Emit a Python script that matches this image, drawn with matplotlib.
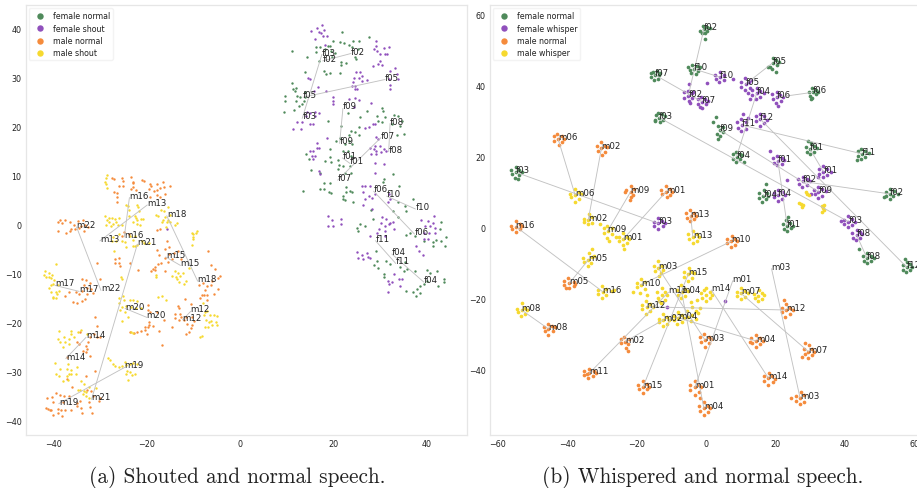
import matplotlib
matplotlib.use('Agg')
import matplotlib.pyplot as plt

COL_GREEN = '#4f8a5b'
COL_PURPLE = '#9050bc'
COL_ORANGE = '#f58b3c'
COL_YELLOW = '#f6d92f'

# panel a, points
a_female_normal = [(11.2,35.4),(21.9,39.1),(27.6,38.2),(21.4,37.2),(22.3,37),(23.2,36.5),(24.1,37.4),(25.5,37.4),(23.9,36.1),(25.3,35.7),
    (19.9,37.3),(18.8,36.4),(18.2,35.7),(19.3,36.3),(16.3,36.1),(17.1,36.1),(16.2,35.2),(19.4,35.4),(20.4,35),(14.3,34.1),(16.9,33.3),(19.6,34),
    (24.6,34),(24.9,33.7),(21.6,33.1),(22.7,32.9),(21.6,32.5),(13.8,31),(17.9,31.3),(18.4,30.6),(19.3,30.8),(21.4,30.8),
    (11.1,28.8),(12,27.8),(11.3,27.6),(11.8,27.2),(9.6,26.2),(9.6,25.2),(12.1,26.2),(12.9,25.9),(13.8,25.9),(13.9,26.9),(11.9,25.2),(13.2,24.5),
    (12.7,24),(11.6,23.3),(9.3,22.9),(13.7,25.2),(23,22.7),(18.9,21.1),(25.7,21.9),(27.1,23.1),(30.4,23.6),(30.5,23.1),(29.4,22),(31,21.8),
    (32.9,22.3),(33.7,22.1),(29.6,21.1),(32.6,20.4),(34.3,20.1),(34.6,21.1),(25.5,19.9),(30.4,20.8),(35,18.4),(33.6,18.2),(21.6,20.1),(23.8,19),
    (24.6,18.8),(25.4,18.2),(23.2,18.2),(21.3,17.5),(23.2,17),(22.5,16.3),(23.9,16.3),(19.3,15.3),(20.6,17),(14,14.3),(14.8,13.3),(22.1,15),(23,15),
    (23.7,13.9),(19.3,13.6),(18.2,12.9),(19.4,12.7),(20.9,13.1),(21.1,12),(15.1,11.1),(17,10.5),(20.9,11.2),(22,11.9),(23.6,11.9),(22.5,10.5),
    (23.7,10.5),(32.7,10.2),(30.7,9.2),(30.6,8.6),(17.9,8.3),(19.3,8.4),(17,7.1),(17.9,7.1),(13.4,6.8),(19.1,6.6),(19.4,6.3),(22.7,7.5),(23.6,6.8),
    (24,6.6),(22.7,6.6),(22.1,5.8),(22,5.1),(22.5,5),(24.1,4.6),(34,7.8),(37,5.2),(33.9,4.6),(35.3,3.7),(35.5,2.7),(32.7,2.7),(28.1,2.9),(28.4,1),
    (33.9,1.4),(25.7,0.1),(25.1,-0.7),(25.3,-1.4),(26.7,-0.3),(43.1,0.5),(42.7,-1),(37.5,-2.4),(35.5,-2.2),(36.4,-1.9),(39.3,-3.4),(41.2,-3.7),
    (41.2,-4.4),(42.9,-3.4),(44.1,-2.7),(43.9,-4.4),(41.9,-3.3),(29.1,-5.4),(29.3,-7.5),(28.7,-8.3),(29.5,-9),(31.3,-7.6),(32,-8.2),(30.9,-10.2),
    (30.9,-10.7),(35.3,-7.7),(35.7,-9.2),(34.3,-8.8),(35.1,-9.5),(37.5,-9.5),(40,-9.4),(42.1,-9.5),(40.7,-9.9),(43.6,-11.2),(43.6,-11.7),(42.3,-12.7),
    (39.3,-12.2),(38.4,-12.6),(37.9,-13.3),(38.4,-14.1),(37,-13.9),(37.6,-14.6),(35.5,-13.6),(40,-11.6)]
a_female_shout = [(16.4,40.1),(17.6,40.6),(15.2,39.3),(17.4,39),(18,39.5),(16.8,39.1),(18.6,38.4),(17.8,38.4),(16.1,37.8),(18.2,36.5),
    (29.1,37.3),(29.1,36.4),(28.6,35.7),(29.4,35.4),(30.7,36),(31.9,36.2),(31,34.7),(30,34.7),(31.4,34.7),(30,33.3),(29.6,32.7),(28.4,32.3),(30.3,32.4),
    (32.1,31.2),(33.2,31.8),(33.6,30.6),(31.8,29.6),(33.9,29.6),(32.1,28.4),(32,27.6),(24.9,31),(25.7,31),(26.1,30.3),(24.3,29.9),(25.4,29.8),(27.1,29.4),
    (24.1,29),(26.1,29.3),(23.9,28.1),(24.6,27.6),(25.1,27.6),(24.5,28.1),(14.5,29.8),(15,29.6),(16.6,27.9),(15.9,27.2),(18.4,27.2),(19.8,26),(19.8,25.2),
    (19.8,24.5),(23.4,25.6),(24.6,25.8),(25.4,25.4),(24.3,23.8),(28,24.8),(14.3,22.9),(15,22.6),(16,22.9),(16.8,22.6),(14,22.1),(13.2,20.9),(12.1,20.9),
    (15,20.5),(15.6,20.4),(11.4,19.5),(13,19.5),(16,22),(26.8,19.7),(27.5,19.9),(28.4,20.4),(28.8,20.4),(18.6,17.5),(29,17.7),(29.6,17.3),(28.9,16),(30,16),
    (27.9,15.6),(28.6,15.3),(29.1,15),(30.1,14.8),(31.3,15),(28,14.3),(29,14.3),(30.9,15.3),(16.4,16.5),(16.4,15.6),(16.9,15.6),(14.9,15),(15.7,15),(15.3,14),
    (16,14),(15.5,13.3),(28.9,12.4),(30.8,12.2),(28.9,10.5),(16.8,10.9),(17.1,10.2),(26.1,7.7),(26.8,7.8),(27.7,7.8),(26.4,6.6),(27.5,5.8),(28.2,5.4),(28.9,6.1),
    (26.8,5.1),(26.4,3.9),(28.2,3.1),(31.8,6.1),(32.1,5.1),(31.6,4.6),(18.9,1.7),(19.6,0.9),(18.9,-0.3),(19.9,-0.3),(21.6,1),(21.6,0),(30.4,1.4),(31.3,1),(32.1,0.3),
    (32.7,0.5),(30.1,0.3),(31,-0.3),(29.8,-1),(31,-1.4),(32.9,-1),(27.7,-2.4),(29.4,-1.7),(31,-2.4),(31.8,0),(38.7,0.9),(40.3,0.7),(41.4,1.6),(41.3,0.3),(39.6,-0.3),
    (40.7,-0.3),(41.8,-0.7),(39.3,-1.7),(40.5,-1.8),(41.8,-1.8),(40.3,-3.1),(39.3,-3.1),(37.7,-4.4),(38.2,-5.4),(39.1,-6.3),(25,-5.6),(25.3,-6.8),(26,-6.3),(27.1,-5.9),
    (27.7,-6.8),(26.2,-7.1),(27.3,-6.6),(31.6,-11.6),(32.5,-11.8),(31.8,-12.2),(34,-11.2),(34.7,-11.1),(31.6,-13.9),(34.3,-12.6),(32.9,-10.2),(-15.7,-1)]
a_male_normal = [(-27.4,9.4),(-27,9.3),(-25.3,9.5),(-25.1,8.8),(-25,7.7),(-23.4,9.7),(-23,8.7),(-22.9,8.4),(-21.1,9),(-20.5,8.9),(-25.9,7.7),(-27.1,6.6),(-26.3,6.3),
    (-26.4,5.5),(-26.4,4.6),(-23,7.5),(-23.4,7.1),(-22.3,7),(-19.2,8.2),(-19,7.7),(-17.8,8.1),(-16.5,8.5),(-19.5,7.1),(-18.4,6.8),(-17.8,7),(-17.1,7.3),(-16.4,7.5),
    (-15.1,7.8),(-17.8,6),(-17.1,5.6),(-16.1,6.1),(-19.2,5.6),(-38.9,0.4),(-38.6,0.9),(-38.2,0.2),(-37.4,0.9),(-36.4,0.4),(-35.6,-0.2),(-34.8,0.7),(-33.7,0.8),(-33.2,-0.2),
    (-32.5,-0.5),(-34.5,-0.8),(-35.3,-1),(-36.5,-1.3),(-37.2,-1.7),(-38.9,-1.3),(-33.4,-1.3),(-34,-0.3),(-36.1,-0.9),(-37.4,-14.7),(-36.6,-13.9),(-35.7,-15.9),(-35,-16),
    (-34.4,-14.3),(-33.9,-15.6),(-33.1,-15.3),(-33.9,-11.2),(-33,-11.4),(-32.1,-12),(-33.4,-12.4),(-32.7,-13),(-32,-13.3),(-31.4,-14),(-32.8,-14.2),(-33.9,-13.6),(-35.2,-13.8),
    (-29.9,-11.1),(-30.7,-8),(-26,-7),(-26.7,-7.2),(-26,-8),(-26.8,-8),(-25.8,-8.5),(-24.8,-1.5),(-23.8,-2),(-25.3,-2.5),(-17.8,-1.1),(-17.2,-1),(-23.6,-8),
    (-17.7,-5.2),(-15.7,-3.5),(-15.3,-4.6),(-16,-5),(-15.2,-6),(-17.3,-6.3),(-14.2,-5.9),(-13.4,-5.4),(-12.6,-7.2),(-14.6,-7.1),(-16.1,-7),(-17,-7.9),(-18.3,-9.4),(-18.7,-9.1),
    (-18.2,-8.8),(-16,-9.5),(-17.5,-8.2),(-19,-9.6),(-21.9,-9.3),(-15.4,-7.8),(-6.9,-5.5),(-6.2,-8.4),(-5.4,-9.2),(-4.4,-10.6),(-4.7,-10.9),(-8,-11.9),(-7.1,-12.7),(-6.2,-12.5),
    (-6,-11.5),(-4.8,-13.3),(-5.6,-14.2),(-7.6,-13.4),(-8.2,-14.5),(-7.8,-14.4),(-7,-14.5),(-8.6,-15),(-7,-15.4),(-8.9,-12.5),(-11.7,-15.3),(-13.4,-16.6),(-13,-17),(-10.5,-16.2),
    (-14,-18.3),(-12.8,-18.3),(-12.6,-19),(-14,-19.2),(-13,-19.5),(-11.6,-19),(-10.4,-18.9),(-12,-19.6),(-11.4,-20.3),(-10.4,-20.5),(-10.5,-21.2),(-10.9,-22),(-11.5,-22.3),(-9.8,-19.8),
    (-14.5,-21),(-19.7,-16.5),(-19.8,-17.5),(-19.2,-18),(-17.7,-18),(-19.6,-20),(-19.5,-20.5),(-19.7,-21),(-18.7,-20.7),(-20.3,-21),(-20.4,-21.5),(-21.3,-21.7),(-22,-22),(-20,-22.5),
    (-17.4,-21.8),(-16.4,-19.5),(-16.7,-24.6),(-23.5,-22),(-22.7,-22.2),(-31,-19),(-30.7,-20.8),(-34.2,-22),(-32.2,-23),(-31.3,-22.5),(-30.6,-23),(-30,-23),(-32.5,-24),(-33,-24.8),
    (-34.9,-24),(-34.5,-24.5),(-33.7,-25.8),(-32.8,-25.4),(-33,-26),(-32.2,-26.9),(-37,-27),(-41.3,-35.4),(-40.3,-35.3),(-39.5,-34.5),(-38.5,-34.9),(-37.8,-35),(-36.6,-35),(-38,-36.2),
    (-40,-36.2),(-41.5,-37.5),(-41.2,-37.6),(-40.7,-37.8),(-40.4,-38),(-38.9,-37.6),(-38.3,-38),(-37.5,-38),(-36.2,-38),(-39,-38.5),(-40,-39),(-38.1,-39.2),(-35,-37),(-34,-37.5),
    (-33.8,-38.6),(-34.2,-36),(-35,-36.5),(-32.4,-36.3),(-32.1,-37.2),(-31.8,-38.5),(-32,-34),(-32.8,-33.9),(-31.5,-35),(-30,-35.5),(-30.3,-36),(-33,-31),(-35.9,-33.3),(-37,-31.6),(-31,-30)]
a_male_shout = [(-28.5,10),(-28.8,9.4),(-29,8.7),(-28.7,8.2),(-28.6,7.4),(-29,1.7),(-28,1.2),(-27.4,1.3),(-26.7,1.1),(-26,1.2),(-28.5,0.9),(-28,0.4),(-27.3,0.1),(-26.5,0.5),(-28.7,-0.1),
    (-27.7,-0.3),(-26.2,-0.2),(-25.2,-0.2),(-24.4,4),(-24,3.7),(-23.8,2.8),(-22,4),(-21.8,3.4),(-21.7,2.7),(-22.6,1.6),(-23.7,1.7),(-22.3,1.2),(-22,0.8),(-21.3,1),(-20.7,1),(-22.9,0.4),
    (-22,0),(-21.5,-0.2),(-18,1.8),(-17.5,1.6),(-17,2.8),(-16.2,2.7),(-15.5,3.5),(-15,1.8),(-16,1.5),(-16.5,0.9),(-15.5,0.8),(-15,0.5),(-13.5,0.3),(-16.7,0.5),(-15.6,0.4),(-15.9,-0.5),(-14,-0.2),
    (-27.2,-2.6),(-26,-2),(-27.4,-3.4),(-26.5,-3.5),(-25.2,-3.5),(-24.7,-3.7),(-23.5,-2.5),(-23,-3.3),(-22.6,-2.5),(-21,-3.4),(-20.5,-3.8),(-22.5,-4.5),(-23,-4.5),(-24.4,-4.6),(-27,-5.5),(-22,-4.2),(-19.5,-3.9),
    (-41.7,-9.6),(-41.9,-10.3),(-40.9,-10),(-40.3,-10.3),(-41,-10.8),(-40.5,-11),(-41.5,-10.8),(-39.5,-8.2),(-39.9,-11.3),(-40,-12.2),(-40.5,-12.5),(-41,-13),(-40.5,-13.8),(-39.5,-13.8),(-38.9,-12.4),
    (-38.7,-13.7),(-39.2,-14.2),(-40,-14.8),(-40.1,-15),(-39.4,-15),(-10.4,-1.7),(-10,-2),(-10,-2.6),(-9.5,-1.8),(-9.3,-1.4),(-10,-3),(-10.3,-4.3),(-18,-10.8),(-18,-10.3),(-14.5,-10.5),(-13.4,-9.9),
    (-13.7,-10.7),(-12.8,-10.5),(-12.2,-10),(-13.6,-11.2),(-13,-11.7),(-11.6,-11.5),(-12,-12.3),(-14,-9.5),(-11,-9),(-25.6,-10.8),(-25.2,-11.2),(-26,-15),(-25,-14.7),(-24.8,-15.5),(-26,-16),(-25.3,-16.8),
    (-24.5,-16.7),(-23.6,-15.5),(-23,-15.5),(-22,-15.7),(-23.4,-16.8),(-22.2,-17),(-21.2,-17),(-25.7,-17.5),(-24.6,-18),(-24,-19),(-25.3,-19.7),(-23.3,-22),(-22.9,-22.2),(-17.6,-14.8),(-16.7,-14.7),(-15.8,-15.5),
    (-7.5,-18),(-7,-17.8),(-6.5,-18.5),(-5.5,-18.5),(-5,-18.8),(-7.2,-19.5),(-6.7,-20),(-6.2,-19.8),(-6,-20.5),(-5.2,-20),(-4.9,-20.5),(-6.8,-20.9),(-7.6,-21),(-8.2,-22.8),(-8.6,-23),(-8,-16),(-7.8,-18.6),
    (-38.7,-21.8),(-36.2,-21.8),(-36.2,-22.5),(-37.8,-23),(-39,-23.5),(-38.5,-24),(-37.5,-24),(-36.7,-23.5),(-38,-25),(-36.7,-24.5),(-35.6,-23),(-34.8,-22),(-34,-21.5),(-32.8,-22.5),
    (-28.2,-27.2),(-27.8,-27.7),(-27.2,-28.5),(-26.8,-29),(-26,-29.2),(-25.2,-29),(-24.7,-28.2),(-24.4,-28.8),(-23.5,-28.6),(-23,-28.3),(-22,-28.5),(-24.3,-30),(-23.5,-30.2),(-23.2,-30.7),(-22.4,-30.5),(-24.5,-30.5),(-24.1,-31.8),
    (-39.6,-28.3),(-38.5,-29.5),(-38.8,-31),(-39.4,-30.5),(-38,-32),(-37,-29.5),(-36.8,-28.5),(-36.3,-29.8),(-36.6,-30.5),(-37,-31),(-36.1,-30.5),(-36.8,-31.8),(-35,-29.2),(-35.2,-30.5),
    (-33.5,-32.5),(-34.2,-33.8),(-34.7,-33.8),(-33.5,-34),(-33,-34.3),(-32.3,-33.3),(-33.7,-34.7),(-33,-35),(-34,-32),(-32.4,-35.5),(-30.8,-33.5)]

# panel b, tight blobs
b_female_normal = [(-0.6,55.8),(-1.6,55.3),(0.2,56.4),(-0.9,56.6),(0.4,55.2),(-1.2,54.7),(-0.3,54.6),(1.2,56),(-0.2,53.1),
    (-3.5,44.6),(-4.7,44.2),(-2.6,45.4),(-3.9,45.8),(-2.4,44),(-4.2,43.4),(-3,43.1),(-5.1,45),(-1.8,45.1),
    (-14.7,42.9),(-15.8,42.3),(-14,44),(-15.2,43.8),(-13.6,42.8),(-14.9,41.5),(-13.9,41.9),(-15.9,43.4),(-13.2,43.4),
    (19.2,46.3),(18.4,45.2),(20.1,47.2),(19.4,47.6),(20.5,45.8),(18,45),(19,44.6),(21,46.5),(20.2,43.8),
    (30.7,38),(29.9,37),(31.7,38.8),(30.5,39.2),(31.6,37.4),(29.6,38.2),(30.6,36.4),(32.2,38.2),(30.2,36),
    (-13.5,30.9),(-14.7,30.3),(-12.7,31.8),(-13.9,32.2),(-12.5,30.3),(-14.4,31.7),(-13.2,29.6),(-14.8,29.9),(-11.9,31.2),
    (4,27.4),(3.2,26.3),(4.9,28.2),(3.6,28.6),(4.8,26.7),(1.9,29.7),(2.9,31),(3.4,24.9),(4.1,25.6),
    (8.8,19.9),(7.8,19.2),(9.7,20.6),(8.6,21.1),(9.9,19.1),(7.7,20.6),(8.6,18.3),(10.3,20.3),(11,18.4),
    (30,22),(29.1,21.3),(31,22.8),(30.2,23.6),(31.2,21.2),(28.9,22.7),(29.9,20.6),(32.1,22.2),(29.5,24.2),
    (44.9,20.7),(43.9,20),(45.9,21.4),(44.8,22),(45.8,19.9),(43.8,21.4),(44.8,19.3),(47,20.8),(43.6,19),
    (16.5,8.9),(15.4,8.3),(17.5,9.7),(16.6,10.5),(17.3,7.9),(15.2,9.6),(16.2,7.2),(18,8.9),(17.2,12.2),
    (53,9.4),(52,8.7),(54.1,10.1),(53.1,10.9),(54,8.7),(51.8,10),(52.9,7.9),(55.2,9.3),(51.3,8.5),
    (23.4,0.4),(22.4,-0.4),(24.3,1.2),(23.2,2),(24.5,-0.3),(22.3,1),(23.4,-1),(25.2,0.5),(23.7,2.9),
    (46.4,-8.7),(45.4,-9.5),(47.5,-8),(46.4,-7.2),(47.4,-9.6),(45.3,-8),(46.3,-10.1),(48.4,-8.6),(44.1,-6),
    (57.9,-11.3),(56.9,-12),(58.9,-10.4),(57.9,-9.8),(58.8,-11.9),(56.8,-10.6),(57.6,-12.7),(59.4,-11.2),(57.4,-9),
    (-54.8,15.5),(-55.9,15),(-53.8,16.2),(-54.8,17),(-53.9,14.8),(-56.1,16),(-55,14),(-53.1,15.7),(-54.2,13.6)]
b_female_whisper = [(-5.1,37.1),(-6.2,36.4),(-4.1,37.8),(-5.3,38.4),(-4,36.4),(-6.3,38),(-5,35.5),(-3.7,38.2),(-5,40.3),(-4.5,34.9),
    (-1.2,35.4),(-2.4,34.8),(-0.2,36.2),(-1.4,36.7),(0,34.6),(-2.4,36),(-1,33.6),(0.6,35.6),(-1.8,33.9),
    (4,42.3),(2.8,41.7),(5.1,42.9),(4.1,43.7),(5.2,41.5),(2.7,43),(3.9,40.8),(7.7,41.8),(0.4,40.6),
    (11.4,40.3),(10.2,39.6),(12.4,41),(11.2,42),(12.6,39.3),(10,40.9),(11.3,38.6),(13,41.6),(12,37.8),
    (14.6,37.7),(13.4,37.2),(15.7,38.5),(14.6,39.1),(15.6,36.8),(13.3,38.6),(14.4,36.1),(16.7,37.9),(12.6,36.1),
    (20.4,36.6),(19.2,36),(21.4,37.3),(20.5,38),(21.5,35.7),(19.1,37.4),(20.3,35),(22.3,36.7),(20.8,34.2),
    (15.6,30.5),(14.5,29.8),(16.7,31.2),(15.6,32),(16.7,29.4),(14.4,31.3),(15.5,28.6),(17.5,30.2),
    (10.3,28.8),(9.2,28.1),(11.4,29.6),(10.2,30.6),(11.4,27.8),(9,29.6),(10.2,27),(12,30.8),(10.6,31.8),
    (20.7,18.8),(19.6,18.2),(21.8,19.6),(20.5,20.2),(21.9,17.8),(19.4,19.5),(20.5,17.4),(18.5,21.4),(22.5,19),
    (33.8,15.7),(32.7,15),(34.9,16.4),(33.7,17.2),(34.8,14.6),(32.6,16.4),(33.7,14.1),(35.9,15.5),(32.4,14.2),
    (27.9,12.9),(26.8,12.2),(29,13.6),(27.9,14.3),(29,11.8),(26.6,13.6),(27.8,11.4),(30,13.1),(23.4,13.4),
    (32.4,10),(31.3,9.3),(33.5,10.7),(32.4,11.4),(33.5,8.8),(31,10.4),(32.3,8.3),(34.5,10.2),(30.2,9.3),
    (20.8,9.1),(19.7,8.4),(21.9,9.8),(20.8,10.5),(21.9,7.9),(19.6,9.6),(20.7,7.4),(22.8,9),
    (41,1.6),(39.9,0.9),(42.1,2.3),(41,3.2),(42.1,0.6),(39.7,2.1),(41,0),(43,1.5),(38.8,1.9),
    (43.4,-2.2),(42.3,-3),(44.5,-1.4),(43.4,-0.7),(44.5,-3),(42.2,-1.6),(43.3,-3.6),(45,-2),
    (-13.7,1.1),(-14.9,0.4),(-12.6,1.8),(-13.7,2.6),(-12.5,0.3),(-15,1.6),(-13.7,-0.6),(-11.9,1.3),(5.5,-20.8),(-11.1,-22.5)]
b_male_normal = [(-42.6,24.9),(-43.8,24.3),(-41.6,25.7),(-42.8,26.4),(-41.4,24),(-43.9,25.6),(-42.4,23.2),(-40.9,25),
    (-30.1,22.3),(-31.2,21.5),(-29.1,23),(-30.2,24),(-29,21.2),(-31.3,23),(-30,20.4),(-28.6,22.5),
    (-21.7,10),(-22.9,10.4),(-20.7,10.7),(-21.6,11.6),(-20.9,9),(-23.4,10),(-21.6,8.6),(-21.9,7.8),
    (-11.5,10),(-12.7,9.4),(-10.5,10.7),(-11.4,11.6),(-10.4,9),(-12.9,10.4),(-11.3,8.4),(-9.9,10),
    (-54.8,0.2),(-56,-0.6),(-53.7,0.9),(-54.6,1.9),(-53.7,-0.6),(-56.3,0.5),(-54.8,-1.3),(-53,0.3),
    (-4.4,3.3),(-5.6,2.7),(-3.4,4),(-4.6,4.9),(-3.4,2.4),(-5.7,3.9),(-4.5,1.7),(-2.9,3.1),
    (7.2,-4),(6,-4.5),(8.3,-3.3),(7.4,-2.5),(8.4,-4.9),(6,-3.2),(7.2,-5.6),(9,-3.8),
    (-39.4,-15.8),(-40.8,-16.3),(-38,-15.4),(-39.6,-14.4),(-38,-16.6),(-41,-15.2),(-39.5,-17.2),(-37.7,-15.9),(-40.3,-17),
    (-45.4,-28.6),(-46.5,-29.3),(-44.3,-27.9),(-45.4,-27.2),(-44.2,-29.1),(-46.6,-28),(-45.5,-30.2),(-43.4,-28.2),
    (-23.3,-32.2),(-24.4,-31.4),(-22.3,-31.5),(-23.5,-30.8),(-22.4,-33),(-24.6,-32.7),(-23,-33.9),(-22.6,-34.8),
    (-33.6,-41.1),(-35,-41.7),(-32.3,-40.6),(-33.8,-39.8),(-32.6,-41.8),(-35.2,-40.6),(-34,-42.4),(-31.8,-41.1),(-34.4,-41.4),
    (-18.1,-44.9),(-19.4,-45.5),(-17,-44.2),(-18,-43.2),(-17,-45.6),(-19.5,-44.3),(-18.2,-46.8),(-16.3,-44.9),
    (-0.3,-31.7),(-1.5,-32.3),(0.8,-31),(-0.5,-30),(0.9,-32.7),(-1.7,-30.9),(-0.4,-33.6),(1.5,-31.5),
    (14.4,-32),(13.2,-32.6),(15.5,-31.3),(14.5,-30.3),(15.6,-33),(13,-31.3),(14.3,-33.8),(16.4,-32),(12.6,-32.2),
    (23.1,-23.3),(22,-24),(24.2,-22.6),(23.2,-21.5),(24.2,-24.4),(22,-22.6),(22.9,-25.4),(25,-23.3),(22.6,-20.5),
    (29.5,-35),(28.4,-35.8),(30.6,-34.3),(29.6,-33.2),(30.5,-36),(28.2,-34.4),(29.3,-36.9),(31.2,-35),(27.7,-36.6),(28.4,-32.6),
    (18,-42.5),(16.8,-43.2),(19.1,-41.8),(18.1,-40.9),(19.2,-43.6),(16.8,-42),(17.9,-44.4),(20,-42.6),
    (-3.2,-45.1),(-4.5,-45.8),(-2.1,-44.4),(-3.2,-43.4),(-2,-46.5),(-4.6,-44.4),(-3.3,-47.2),(-1.3,-45.1),(-1.6,-48.2),
    (-0.6,-51),(-1.8,-51.8),(0.5,-50.3),(-0.6,-49.2),(0.6,-52),(-1.9,-50.2),(-0.7,-53),(1.3,-50.9),
    (27.1,-48),(26,-48.8),(28.2,-47.3),(27.3,-46.3),(28.2,-49.2),(25.9,-47.6),(27,-49.8),(24.5,-48.1)]
b_male_whisper = [(-37.7,9.1),(-38.9,8.4),(-36.6,9.8),(-37.8,10.8),(-36.5,8.1),(-39.1,9.5),(-37.6,7.2),(-36,9.4),
    (-33.9,2.1),(-35,1.4),(-32.8,2.8),(-33.8,3.7),(-32.9,1.1),(-35.2,2.3),(-34,0.9),(-30.5,0.9),
    (-28.3,-1),(-29.4,-1.7),(-27.2,-0.3),(-28.4,0.4),(-27.2,-2),(-29.5,-0.2),(-28.6,-3),(-26,-2.6),(-27.8,-3.8),
    (-23.8,-3.3),(-25,-4),(-22.7,-2.6),(-23.9,-1.7),(-22.7,-4.3),(-25.1,-2.6),(-23.9,-5),(-22.3,-3.3),(-23.7,-6),
    (-3.8,-2.6),(-5,-3.3),(-2.7,-1.9),(-3.8,-1),(-2.7,-3.8),(-5.1,-1.9),(-3.7,-4.4),(-1.9,-2.6),
    (-33.9,-9.2),(-35.2,-9.9),(-32.8,-8.5),(-33.6,-7.2),(-33,-10.2),(-35.4,-8.7),(-34,-11),(-32.2,-8.2),(-32.9,-6),
    (-13.7,-11.5),(-14.8,-12.2),(-12.7,-10.8),(-13.9,-9.4),(-13,-12.8),(-14.9,-10.8),(-13.6,-13.7),(-12.4,-12),
    (-5.1,-13.2),(-6.2,-13.9),(-4,-12.5),(-5,-11.6),(-4,-14.3),(-6.3,-12.6),(-5.3,-15),(-3.4,-13),
    (-18.7,-16.2),(-19.9,-16.9),(-17.6,-15.5),(-18.8,-14.6),(-17.7,-17.4),(-20,-15.8),(-18.9,-18.4),(-20.9,-18.2),(-17,-19),
    (-29.8,-18.1),(-31,-18.8),(-28.7,-17.4),(-29.9,-16.4),(-28.8,-19.2),(-31.2,-17.6),(-30,-20),(-27.1,-18),(-26.4,-17.8),
    (-53.1,-23.3),(-54.2,-24),(-52,-22.6),(-53,-21.4),(-52.2,-24.4),(-54.4,-22.9),(-53.4,-25),(-51.5,-23.2),
    (-12.8,-19.1),(-13.9,-19.9),(-11.7,-18.2),(-12.8,-17),(-11.8,-20.4),(-14,-18.2),(-12.9,-21.2),(-11.2,-19),(-13.5,-20.8),
    (-7,-18.3),(-8.1,-19),(-6,-17.4),(-7.2,-16.2),(-6,-19.4),(-8.3,-17.7),(-7.1,-20),(-5.2,-18),(-4.4,-21),(-2.7,-20.4),
    (-17.1,-22.4),(-18.3,-23.1),(-16,-21.7),(-17.2,-20.8),(-16.1,-23.6),(-18.5,-21.9),(-17.2,-24.4),(-15.2,-22.4),
    (-12.3,-26.1),(-13.4,-26.8),(-11.2,-25.4),(-12.4,-24.5),(-11.2,-27.2),(-13.6,-25.7),(-12.4,-27.9),(-10.6,-26),
    (-8,-25.5),(-9.2,-26.2),(-6.9,-24.8),(-8,-24),(-7,-26.6),(-9.3,-25),(-8.2,-27.2),(-6.2,-25.5),
    (-4.1,-24.6),(-5.2,-25.3),(-3,-23.6),(-4,-22.4),(-3,-25.8),(-5.4,-23.6),(-4.2,-26.4),(-2.2,-24.2),(-1.6,-22.7),
    (0,-19),(-1.2,-19.8),(1.1,-18.2),(0.1,-17.2),(1.1,-20),(-1.4,-18.4),(0,-20.8),(1.8,-19),(-0.5,-17.8),
    (10.1,-18.6),(9,-19.3),(11.2,-17.9),(10.2,-17),(11.2,-19.7),(8.8,-18.2),(10,-20.3),(12,-18.6),
    (15.1,-19.3),(14,-20),(16.2,-18.6),(15.2,-17.7),(16.2,-20.3),(13.9,-18.9),(15,-20.8),(16.8,-19.2),
    (28.8,9.9),(29.2,9.4),(29.6,9.2),(27.4,6.5),(28,6.2),(26.9,6.8),(27.8,5.8),(33.6,5.5),(33.9,6.2),(33.4,6),(34,4.8),(33.5,4.4)]

# label pairs, name then both ends of the connecting line
a_pairs = [('m16',(-23.7,5.4),(-24.8,-2.6)),('m13',(-19.9,3.9),(-30,-3.4)),('m18',(-15.7,1.7),(-9.1,-11.6)),('m22',(-35,-0.6),(-29.8,-13.5)),
    ('m21',(-22,-4.1),(-31.8,-35.7)),('m15',(-15.9,-6.7),(-12.8,-8.4)),('m17',(-39.6,-12.5),(-34.5,-13.7)),('m20',(-24.6,-17.2),(-20,-19)),
    ('m12',(-10.6,-17.8),(-12.3,-19.5)),('m14',(-33,-23.1),(-37.3,-27.4)),('m19',(-24.7,-29.2),(-38.8,-36.6)),
    ('f03',(17.5,34.6),(13.3,21.6)),('f02',(17.7,33.3),(23.7,34.8)),('f05',(31,29.5),(13.5,25.9)),('f09',(22,23.6),(21.3,16.5)),
    ('f08',(32.1,20.5),(31.8,14.8)),('f07',(30.1,17.6),(20.9,9)),('f01',(21.9,13.5),(23.5,12.4)),('f06',(28.6,6.7),(37.3,-2)),
    ('f10',(31.4,5.7),(37.5,3.1)),('f11',(29,-3.4),(33.3,-8)),('f04',(32.5,-6.1),(39.3,-11.8))]
b_pairs = [('m06',(-42.6,24.9),(-37.7,9.1)),('m02',(-30.1,22.3),(-33.9,2.1)),('m09',(-21.7,10),(-28.3,-1)),('m01',(-11.5,10),(-23.8,-3.3)),
    ('f03',(-54.8,15.5),(-13.7,1.1)),('f07',(-14.7,42.9),(-1.2,35.4)),('f03',(-13.5,30.9),(41,1.6)),('f02',(-0.6,55.8),(-5.1,37.1)),
    ('f10',(-3.5,44.6),(4,42.3)),('f05',(19.2,46.3),(11.4,40.3)),('f04',(14.6,37.7),(8.8,19.9)),('f06',(20.4,36.6),(30.7,38)),
    ('f12',(15.6,30.5),(57.9,-11.3)),('f11',(10.3,28.8),(44.9,20.7)),('f09',(4,27.4),(32.4,10)),('f01',(30,22),(33.8,15.7)),
    ('f01',(20.7,18.8),(23.4,0.4)),('f02',(27.9,12.9),(53,9.4)),('f04',(16.5,8.9),(20.8,9.1)),('f08',(43.4,-2.2),(46.4,-8.7)),
    ('m13',(-4.4,3.3),(-3.8,-2.6)),('m05',(-33.9,-9.2),(-39.4,-15.8)),('m16',(-54.8,0.2),(-29.8,-18.1)),('m08',(-53.1,-23.3),(-45.4,-28.6)),
    ('m03',(-13.7,-11.5),(-0.3,-31.7)),('m10',(-18.7,-16.2),(7.2,-4)),('m11',(-33.6,-41.1),(-10.8,-18.3)),('m15',(-18.1,-44.9),(-5.1,-13.2)),
    ('m04',(-7,-18.3),(-0.6,-51)),('m04',(-8,-25.5),(14.4,-32)),('m01',(7.7,-15.1),(-3.2,-45.1)),('m14',(1.6,-17.7),(18,-42.5)),
    ('m12',(-17.1,-22.4),(23.1,-23.3)),('m02',(-12.3,-26.1),(-23.3,-32.2)),('m07',(10.1,-18.6),(29.5,-35)),('m03',(18.9,-11.7),(27.1,-48))]


def draw_panel(ax, series, names, pairs, xticks, yticks, dot):
    for pts, col, name in zip(series, [COL_GREEN, COL_PURPLE, COL_ORANGE, COL_YELLOW], names):
        ax.scatter([p[0] for p in pts], [p[1] for p in pts], s=dot, color=col, linewidths=0, label=name)
    for name, p1, p2 in pairs:
        ax.plot([p1[0], p2[0]], [p1[1], p2[1]], color='#c2c2c2', lw=0.65, zorder=3)
        ax.text(p1[0], p1[1], name, fontsize=6.2, color='#222222', zorder=4)
        ax.text(p2[0], p2[1], name, fontsize=6.2, color='#222222', zorder=4)
    ax.set_xticks(xticks)
    ax.set_yticks(yticks)
    ax.tick_params(length=0, labelsize=5.8, pad=3, colors='#222222')
    for s in ax.spines.values():
        s.set_color('#e6e6e6')
        s.set_linewidth(0.9)
    leg = ax.legend(loc='upper left', fontsize=5.7, markerscale=4.6 / dot ** 0.5, borderaxespad=0.4, labelspacing=0.4,
                    handletextpad=0.6, framealpha=0.8, edgecolor='#f0f0f0')
    for t in leg.get_texts():
        t.set_color('#222222')


W, H = 917.0, 489.0
fig = plt.figure(figsize=(W / 100, H / 100), dpi=100)
ax1 = fig.add_axes([25.7 / W, 1 - 436 / H, (466.7 - 25.7) / W, 430 / H])
ax2 = fig.add_axes([489.7 / W, 1 - 436 / H, (925 - 489.7) / W, 430 / H])

draw_panel(ax1, [a_female_normal, a_female_shout, a_male_normal, a_male_shout],
           ['female normal', 'female shout', 'male normal', 'male shout'], a_pairs,
           [-40, -20, 0, 20, 40], [-40, -30, -20, -10, 0, 10, 20, 30, 40], 3.0)
ax1.set_xlim(-45.9, 48.5)
ax1.set_ylim(-43, 44.7)

draw_panel(ax2, [b_female_normal, b_female_whisper, b_male_normal, b_male_whisper],
           ['female normal', 'female whisper', 'male normal', 'male whisper'], b_pairs,
           [-60, -40, -20, 0, 20, 40, 60], [-40, -20, 0, 20, 40, 60], 7.0)
ax2.set_xlim(-62.3, 63.1)
ax2.set_ylim(-58.5, 62.6)

fig.text(237.5 / W, 1 - 483 / H, '(a) Shouted and normal speech.', family='cmr10', fontsize=15.3, ha='center', color='#222222')
fig.text(702.5 / W, 1 - 483 / H, '(b) Whispered and normal speech.', family='cmr10', fontsize=15.3, ha='center', color='#222222')

fig.savefig('out.png', dpi=100)
